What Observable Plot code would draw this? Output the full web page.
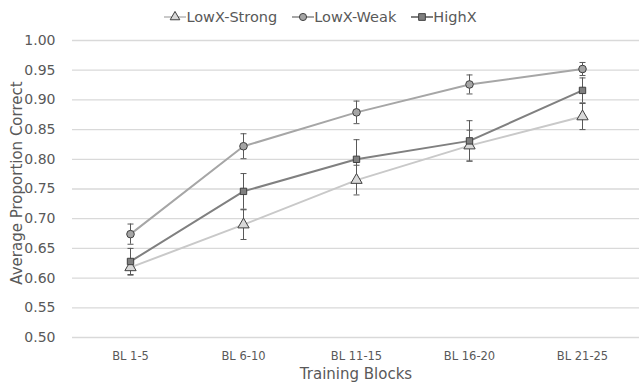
<!DOCTYPE html>
<html><head><meta charset="utf-8">
<script src="https://cdn.jsdelivr.net/npm/d3@7"></script>
<script src="https://cdn.jsdelivr.net/npm/@observablehq/plot@0.6"></script>
<style>
body{margin:0;background:#fff;font-family:"DejaVu Sans",sans-serif;color:#595959;}
#legend{height:30px;display:flex;justify-content:center;align-items:center;gap:15px;font-size:14.5px;padding-top:3px;padding-left:2px;box-sizing:border-box;}
#legend .it{display:flex;align-items:center;gap:0px;}
</style></head><body>
<div id="legend"></div>
<div id="chart"></div>
<script>
const blocks = ["BL 1-5","BL 6-10","BL 11-15","BL 16-20","BL 21-25"];
const seriesNames = ["LowX-Strong","LowX-Weak","HighX"];
const strongMean = [0.618,0.690,0.765,0.823,0.872];
const strongErr  = [0.013,0.025,0.025,0.026,0.022];
const weakMean   = [0.674,0.822,0.879,0.926,0.952];
const weakErr    = [0.017,0.021,0.019,0.016,0.011];
const highMean   = [0.628,0.746,0.800,0.831,0.916];
const highErr    = [0.022,0.030,0.033,0.034,0.021];
const yTicks = [0.50,0.55,0.60,0.65,0.70,0.75,0.80,0.85,0.90,0.95,1.00];

const styles = {
  "LowX-Strong":{line:"#c9c9c9",fill:"#d9d9d9",symbol:"triangle",r:4.2},
  "LowX-Weak":{line:"#a6a6a6",fill:"#a5a5a5",symbol:"circle",r:3.8},
  "HighX":{line:"#808080",fill:"#7f7f7f",symbol:"square",r:3.6}
};
const means = [strongMean,weakMean,highMean];
const errs = [strongErr,weakErr,highErr];
const data = [];
seriesNames.forEach((s,si)=>blocks.forEach((b,i)=>data.push({series:s,block:b,y:means[si][i],lo:means[si][i]-errs[si][i],hi:means[si][i]+errs[si][i]})));

const cap = {draw(ctx,size){ctx.moveTo(-3,0);ctx.lineTo(3,0);}};

const marks = [
  Plot.ruleY(yTicks,{stroke:"#d9d9d9",strokeWidth:1.3})
];
for (const s of seriesNames) {
  const d = data.filter(r=>r.series===s);
  marks.push(Plot.line(d,{x:"block",y:"y",stroke:styles[s].line,strokeWidth:2}));
}
for (const s of seriesNames) {
  const d = data.filter(r=>r.series===s);
  marks.push(Plot.ruleX(d,{x:"block",y1:"lo",y2:"hi",stroke:"#595959",strokeWidth:1}));
  marks.push(Plot.dot(d,{x:"block",y:"lo",symbol:cap,stroke:"#595959",strokeWidth:1}));
  marks.push(Plot.dot(d,{x:"block",y:"hi",symbol:cap,stroke:"#595959",strokeWidth:1}));
}
for (const s of seriesNames) {
  const d = data.filter(r=>r.series===s);
  marks.push(Plot.dot(d,{x:"block",y:"y",symbol:styles[s].symbol,r:styles[s].r,fill:styles[s].fill,stroke:"#404040",strokeWidth:1}));
}
marks.push(Plot.axisY(yTicks,{tickSize:0,tickPadding:17,tickFormat:d3.format(".2f"),fontSize:14,label:null}));
marks.push(Plot.axisX({tickSize:0,tickPadding:14,fontSize:11.5,label:null}));
marks.push(Plot.text(["Average Proportion Correct"],{frameAnchor:"left",dx:-55,dy:-6,rotate:-90,fontSize:15,textAnchor:"middle"}));
marks.push(Plot.text(["Training Blocks"],{frameAnchor:"bottom",dy:41,fontSize:15}));

const chart = Plot.plot({
  width:639,height:352,marginLeft:72,marginRight:0,marginTop:10,marginBottom:45,
  style:{fontFamily:"DejaVu Sans, sans-serif",color:"#595959",background:"#fff",overflow:"visible"},
  x:{type:"point",domain:blocks,padding:0.5},
  y:{domain:[0.5,1.0]},
  marks
});
document.getElementById("chart").append(chart);

// legend
const leg = document.getElementById("legend");
for (const s of seriesNames) {
  const st = styles[s];
  const it = document.createElement("div"); it.className="it";
  const sym = d3.symbol(st.symbol==="triangle"?d3.symbolTriangle:st.symbol==="circle"?d3.symbolCircle:d3.symbolSquare, st.symbol==="triangle"?40:st.symbol==="circle"?40:45)();
  it.innerHTML = `<svg width="22" height="12"><line x1="0" x2="22" y1="6" y2="6" stroke="${st.line}" stroke-width="2"/><path d="${sym}" transform="translate(11,6)" fill="${st.fill}" stroke="#404040"/></svg><span>${s}</span>`;
  leg.append(it);
}
</script></body></html>
